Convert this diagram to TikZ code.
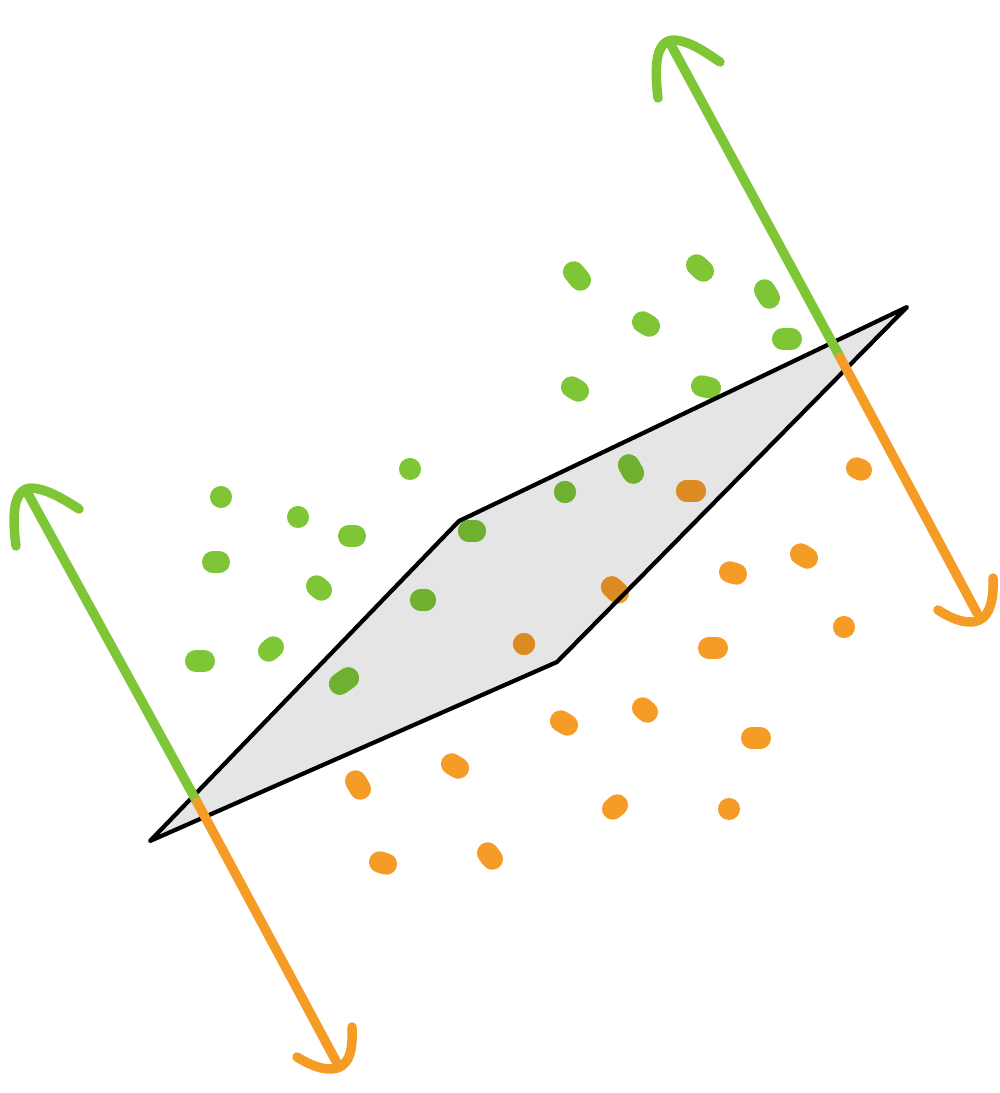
\documentclass[tikz,border=0pt]{standalone}
\usetikzlibrary{calc}
\definecolor{cgreen}{HTML}{7EC636}
\definecolor{cgreend}{HTML}{70B030}
\definecolor{corange}{HTML}{F59C26}
\definecolor{coranged}{HTML}{DC8A22}
\definecolor{cplane}{HTML}{E5E5E5}
\tikzset{
  gdot/.style={draw=cgreen,line width=6.1pt,line cap=round},
  odotstyle/.style={draw=corange,line width=6.1pt,line cap=round},
  gdotd/.style={draw=cgreend,line width=6.1pt,line cap=round},
  odotd/.style={draw=coranged,line width=6.1pt,line cap=round},
  gline/.style={draw=cgreen,line width=2.7pt,line cap=round,line join=round},
  oline/.style={draw=corange,line width=2.7pt,line cap=round,line join=round},
  planeedge/.style={draw=black,line width=1.2pt,line join=round},
}
\newcommand\mydt[5]{\draw[#1] ($(#2,#3)-(#4,#5)-(0.3,0)$) -- ($(#2,#3)+(#4,#5)+(0.3,0)$);}
\newcommand\alldots[2]{%
  \mydt{#1}{577}{276}{3}{4}
  \mydt{#1}{700}{268}{3}{3}
  \mydt{#1}{767}{294}{2}{4}
  \mydt{#1}{646}{324}{3}{2}
  \mydt{#1}{787}{339}{4}{0}
  \mydt{#1}{575}{389}{3}{2}
  \mydt{#1}{706}{387}{4}{1}
  \mydt{#1}{410}{469}{0}{0}
  \mydt{#1}{221}{497}{0}{0}
  \mydt{#1}{298}{517}{0}{0}
  \mydt{#1}{352}{536}{3}{0}
  \mydt{#1}{216}{562}{3}{0}
  \mydt{#1}{319}{588}{2}{2}
  \mydt{#1}{271}{649}{2}{-2}
  \mydt{#1}{200}{661}{4}{0}
  \mydt{#1}{472}{531}{3}{0}
  \mydt{#1}{565}{492}{0}{0}
  \mydt{#1}{631}{469}{2}{4}
  \mydt{#1}{423}{600}{2}{0}
  \mydt{#1}{344}{681}{4}{-3}
  \mydt{#2}{859}{469}{2}{1}
  \mydt{#2}{691}{491}{4}{0}
  \mydt{#2}{615}{590}{3}{3}
  \mydt{#2}{524}{644}{0}{0}
  \mydt{#2}{804}{556}{3}{2}
  \mydt{#2}{733}{573}{3}{1}
  \mydt{#2}{713}{648}{4}{0}
  \mydt{#2}{844}{627}{0}{0}
  \mydt{#2}{564}{723}{3}{2}
  \mydt{#2}{645}{710}{2}{2}
  \mydt{#2}{756}{738}{4}{0}
  \mydt{#2}{358}{785}{2}{4}
  \mydt{#2}{455}{766}{3}{2}
  \mydt{#2}{615}{807}{2}{-2}
  \mydt{#2}{729}{809}{0}{0}
  \mydt{#2}{383}{863}{3}{1}
  \mydt{#2}{490}{856}{2}{3}
}
\begin{document}
\begin{tikzpicture}[x=0.01cm,y=-0.01cm]
\useasboundingbox (0,0) rectangle (999,1093);
% plane corners
\coordinate (p1) at (150,841);
\coordinate (p2) at (459,521);
\coordinate (p3) at (907,307);
\coordinate (p4) at (557,662);
\fill[cplane] (p1) -- (p2) -- (p3) -- (p4) -- cycle;
% dots
\alldots{gdot}{odotstyle}
\begin{scope}
  \clip (p1) -- (p2) -- (p3) -- (p4) -- cycle;
  \alldots{gdotd}{odotd}
\end{scope}
\draw[planeedge] (p1) -- (p2) -- (p3) -- (p4) -- cycle;
% left normal
\coordinate (lt) at (27,492);
\coordinate (lm) at (197,802);
\coordinate (lb) at (337,1063);
\draw[gline] (lt) -- (lm);
\draw[oline] (lm) -- (lb);
\draw[gline] (16,546) .. controls (12,515) and (13,489) .. (31,488) .. controls (47,489) and (62,498) .. (79,509);
\draw[oline] (352,1027) .. controls (353,1050) and (350,1069) .. (330,1069) .. controls (318,1069) and (305,1062) .. (297,1057);
% right normal
\coordinate (rt) at (670,43);
\coordinate (rm) at (840,357);
\coordinate (rb) at (977,613);
\draw[gline] (rt) -- (rm);
\draw[oline] (rm) -- (rb);
\draw[gline] (658,98) .. controls (654,65) and (656,40) .. (674,40) .. controls (690,41) and (705,52) .. (720,62);
\draw[oline] (993,578) .. controls (994,600) and (990,622) .. (970,622) .. controls (958,622) and (946,615) .. (938,610);
\end{tikzpicture}
\end{document}
